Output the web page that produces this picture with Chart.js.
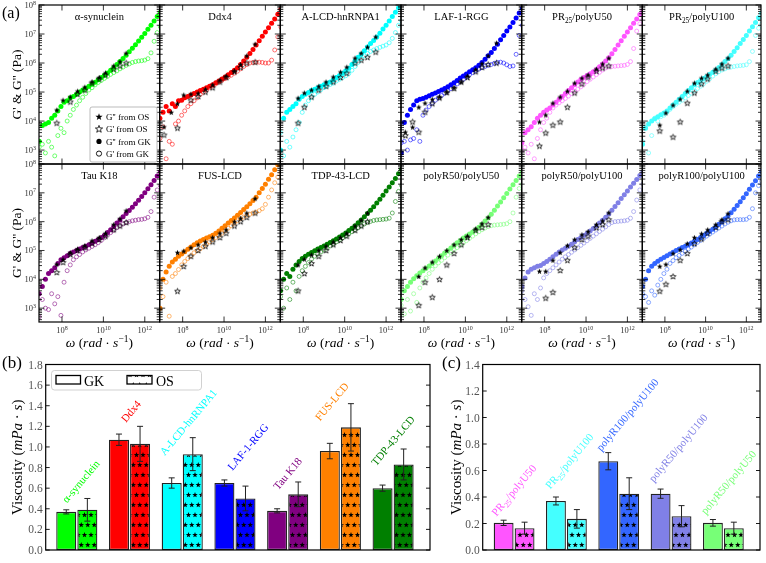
<!DOCTYPE html>
<html>
<head>
<meta charset="utf-8">
<script src="https://cdn.jsdelivr.net/npm/chart.js@4.4.1/dist/chart.umd.min.js"></script>
<style>
  html, body { margin: 0; padding: 0; background: #fff; }
  #wrap { position: relative; width: 766px; height: 563px; overflow: hidden; }
  #wrap canvas { position: absolute; left: 0; top: 0; }
</style>
</head>
<body>
<div id="wrap"></div>
<script>
// ---------- data: panel (a), values are log10 ----------
const omegaGK = [6.9,7.05,7.2,7.35,7.5,7.65,7.8,7.95,8.1,8.25,8.4,8.55,8.7,8.85,9.0,9.15,9.3,9.45,9.6,9.75,
  9.9,10.05,10.2,10.35,10.5,10.65,10.8,10.95,11.1,11.25,11.4,11.55,11.7,11.85,12.0,12.15,12.3,12.45,12.6,12.75];
const omegaOS = [7.1,7.45,7.75,8.05,8.4,8.75,9.1,9.45,9.8,10.1,10.5,10.8,11.1,11.5];

const panelNames = ['α-synuclein','Ddx4','A-LCD-hnRNPA1','LAF-1-RGG','PR_{25}/polyU50','PR_{25}/polyU100',
  'Tau K18','FUS-LCD','TDP-43-LCD','polyR50/polyU50','polyR50/polyU100','polyR100/polyU100'];
const panelColors = ['#00ff00','#ff0000','#00ffff','#0000ff','#ff55ff','#44ffff',
  '#800080','#ff8000','#007f00','#77ff77','#8080e6','#3366ff'];

// G'' from GK (filled circles)
const gppGK = [
  [3.3,3.85,3.9,3.95,4.1,4.2,4.35,4.5,4.65,4.7,4.8,4.85,4.92,5.0,5.07,5.13,5.2,5.27,5.34,5.42,5.5,5.58,5.66,5.75,5.85,5.95,6.05,6.16,6.27,6.39,6.51,6.63,6.76,6.89,7.02,7.16,7.3,7.45,7.6,7.75],
  [4.1,4.3,4.5,4.35,4.6,4.5,4.7,4.72,4.8,4.85,4.9,4.95,5.0,5.05,5.1,5.15,5.2,5.25,5.32,5.38,5.45,5.52,5.6,5.67,5.75,5.84,5.95,6.07,6.2,6.33,6.47,6.62,6.77,6.92,7.07,7.22,7.37,7.52,7.68,7.85],
  [3.0,4.1,4.3,4.4,4.5,4.6,4.75,4.85,4.92,4.98,5.05,5.1,5.15,5.2,5.25,5.3,5.35,5.42,5.5,5.57,5.65,5.73,5.82,5.95,6.08,6.2,6.3,6.42,6.55,6.67,6.78,6.9,7.03,7.17,7.3,7.45,7.6,7.75,7.9,8.05],
  [2.9,3.95,4.2,4.4,4.55,4.7,4.75,4.78,4.82,4.87,4.92,4.97,5.02,5.07,5.12,5.18,5.25,5.32,5.4,5.48,5.55,5.62,5.7,5.77,5.84,5.92,6.02,6.13,6.25,6.36,6.5,6.65,6.8,6.95,7.1,7.24,7.4,7.55,7.72,7.88],
  [3.25,3.6,3.7,3.8,3.95,4.1,4.2,4.3,4.38,4.45,4.55,4.65,4.75,4.85,4.95,5.05,5.15,5.25,5.35,5.43,5.5,5.57,5.63,5.7,5.78,5.87,5.97,6.07,6.18,6.32,6.47,6.62,6.77,6.92,7.07,7.22,7.37,7.52,7.67,7.8],
  [3.2,3.75,3.9,4.0,4.08,4.15,4.22,4.28,4.35,4.45,4.55,4.65,4.75,4.85,4.95,5.05,5.15,5.25,5.33,5.4,5.47,5.54,5.61,5.68,5.76,5.85,5.95,6.05,6.15,6.27,6.4,6.53,6.67,6.81,6.95,7.1,7.25,7.4,7.56,7.72],
  [3.5,3.75,4.0,4.2,4.3,4.4,4.55,4.68,4.75,4.82,4.9,4.95,5.0,5.05,5.1,5.15,5.2,5.26,5.32,5.38,5.45,5.53,5.62,5.72,5.83,5.95,6.06,6.17,6.28,6.39,6.5,6.62,6.74,6.87,7.0,7.14,7.28,7.43,7.58,7.73],
  [3.0,4.0,4.25,4.45,4.6,4.7,4.8,4.88,4.96,5.04,5.12,5.2,5.27,5.33,5.38,5.43,5.48,5.53,5.6,5.68,5.77,5.86,5.95,6.04,6.13,6.22,6.32,6.42,6.52,6.62,6.73,6.85,7.0,7.15,7.3,7.47,7.63,7.8,7.97,8.1],
  [3.6,4.0,4.2,4.1,4.35,4.5,4.62,4.72,4.8,4.87,4.93,4.99,5.05,5.1,5.16,5.22,5.28,5.34,5.4,5.47,5.54,5.61,5.69,5.77,5.86,5.96,6.06,6.17,6.28,6.4,6.52,6.65,6.78,6.92,7.06,7.2,7.35,7.5,7.66,7.82],
  [3.3,3.6,3.75,3.9,4.02,4.12,4.22,4.3,4.38,4.46,4.55,4.64,4.73,4.82,4.91,5.0,5.09,5.18,5.27,5.35,5.43,5.5,5.57,5.64,5.72,5.81,5.91,6.02,6.13,6.26,6.4,6.54,6.68,6.83,6.98,7.13,7.28,7.43,7.58,7.73],
  [3.75,4.05,4.25,4.35,4.4,4.45,4.48,4.55,4.62,4.7,4.78,4.87,4.95,5.02,5.08,5.15,5.22,5.3,5.38,5.45,5.52,5.6,5.68,5.76,5.85,5.95,6.05,6.15,6.27,6.4,6.53,6.66,6.8,6.93,7.06,7.2,7.33,7.46,7.6,7.72],
  [3.75,4.0,4.3,4.45,4.55,4.63,4.7,4.76,4.82,4.88,4.94,5.0,5.05,5.1,5.15,5.2,5.26,5.32,5.38,5.45,5.52,5.6,5.67,5.74,5.82,5.91,6.0,6.1,6.2,6.31,6.43,6.56,6.69,6.83,6.97,7.12,7.27,7.42,7.58,7.74]
];
// G' from GK (open circles)
const gpGK = [
  [3.1,3.2,2.9,3.3,3.1,2.8,3.5,3.75,3.6,4.0,4.2,4.4,4.55,4.7,4.82,4.95,5.07,5.15,5.25,5.33,5.4,5.47,5.54,5.61,5.67,5.73,5.8,5.86,5.92,5.97,6.02,6.05,6.07,6.08,6.1,6.15,6.35,6.75,7.05,7.25],
  [3.4,3.8,2.7,3.3,3.2,3.9,4.0,4.2,4.35,4.5,4.6,4.7,4.8,4.92,5.0,5.07,5.15,5.22,5.28,5.34,5.4,5.46,5.52,5.58,5.65,5.72,5.8,5.88,5.95,6.0,6.02,6.03,6.03,6.02,6.0,6.0,6.1,6.45,6.9,7.24],
  [3.6,2.8,3.3,3.1,3.45,3.7,3.95,4.3,4.55,4.7,4.82,4.92,5.0,5.08,5.15,5.2,5.26,5.31,5.38,5.44,5.5,5.56,5.64,5.75,5.88,6.02,6.15,6.25,6.33,6.4,6.45,6.5,6.54,6.58,6.62,6.7,6.85,7.05,7.3,7.45],
  [3.25,3.3,3.0,3.35,3.4,3.7,3.3,4.2,4.38,4.5,4.62,4.72,4.8,4.88,4.96,5.04,5.12,5.2,5.28,5.36,5.44,5.52,5.6,5.67,5.73,5.79,5.84,5.88,5.92,5.95,5.99,6.02,6.03,6.0,5.94,5.88,5.9,6.3,6.95,7.3],
  [3.0,3.1,2.9,3.2,2.7,3.4,3.7,3.95,4.1,4.3,4.45,4.55,4.63,4.7,4.78,4.86,4.95,5.03,5.1,5.18,5.27,5.36,5.44,5.52,5.6,5.68,5.76,5.83,5.87,5.88,5.89,5.9,5.91,5.92,5.95,6.05,6.5,7.1,7.35,7.5],
  [3.3,3.8,2.9,3.5,4.1,4.0,4.15,4.2,4.3,4.4,4.5,4.58,4.65,4.72,4.8,4.88,4.96,5.04,5.12,5.2,5.28,5.37,5.46,5.55,5.63,5.7,5.76,5.8,5.84,5.86,5.88,5.9,5.91,5.92,5.94,6.05,6.4,6.95,7.2,7.35],
  [2.7,3.3,3.0,2.95,3.5,3.15,3.4,2.75,3.9,4.3,4.5,4.68,4.78,4.86,4.95,5.02,5.08,5.14,5.2,5.27,5.35,5.44,5.53,5.62,5.7,5.79,5.86,5.92,5.97,6.0,6.03,6.05,6.07,6.08,6.1,6.15,6.35,6.85,7.1,7.25],
  [3.7,3.4,3.9,2.72,4.1,4.2,4.34,4.5,4.62,4.72,4.82,4.92,5.0,5.06,5.14,5.22,5.3,5.38,5.45,5.52,5.6,5.68,5.77,5.86,5.95,6.03,6.1,6.16,6.22,6.26,6.3,6.33,6.38,6.45,6.6,6.85,7.1,7.35,7.55,7.7],
  [3.4,3.0,3.7,3.3,3.9,3.6,4.1,4.3,4.45,4.58,4.7,4.8,4.88,4.95,5.02,5.09,5.16,5.23,5.3,5.37,5.44,5.51,5.58,5.65,5.72,5.79,5.86,5.92,5.97,6.01,6.04,6.06,6.07,6.08,6.09,6.12,6.3,6.7,7.05,7.25],
  [3.1,2.8,3.3,2.9,3.5,3.2,3.7,3.9,4.05,4.2,4.35,4.47,4.57,4.66,4.75,4.84,4.93,5.02,5.1,5.18,5.26,5.34,5.42,5.5,5.58,5.65,5.72,5.78,5.83,5.86,5.88,5.89,5.9,5.91,5.93,6.0,6.3,6.85,7.15,7.3],
  [3.6,3.3,3.05,2.75,3.5,3.3,3.7,4.05,4.2,4.3,4.4,4.5,4.6,4.7,4.78,4.86,4.94,5.02,5.1,5.18,5.26,5.34,5.42,5.5,5.58,5.66,5.74,5.82,5.9,5.97,6.0,6.01,6.02,6.03,6.05,6.12,6.35,6.75,7.1,7.3],
  [3.5,3.4,3.2,3.6,3.45,3.8,4.0,4.2,4.35,4.55,4.65,4.75,4.83,4.9,4.97,5.05,5.12,5.2,5.28,5.35,5.42,5.5,5.57,5.64,5.71,5.78,5.85,5.92,5.98,6.03,6.06,6.07,6.07,6.07,6.08,6.15,6.45,7.0,7.25,7.4]
];
// G'' from OS (filled stars)
const gppOS = [
  [null,null,4.38,4.72,4.83,5.03,5.17,5.35,5.5,5.66,5.9,6.05,6.34,null],
  [3.8,4.3,4.6,4.9,4.93,4.96,5.1,5.25,5.41,5.55,5.72,5.95,6.25,6.65],
  [null,null,4.79,4.97,5.07,5.2,5.35,5.52,5.69,5.86,6.17,6.34,6.55,6.9],
  [3.62,3.79,4.48,4.62,4.75,4.83,5.0,5.15,5.35,5.55,5.78,5.98,6.25,6.69],
  [null,null,3.97,4.21,4.62,4.83,5.03,5.31,5.48,5.59,5.79,5.97,6.17,null],
  [null,null,3.86,4.28,4.55,4.76,5.03,5.31,5.48,5.59,5.79,5.97,6.17,null],
  [null,null,4.52,4.69,4.93,5.05,5.17,5.34,5.45,5.6,5.9,6.1,6.38,null],
  [null,null,4.93,4.98,5.1,5.2,5.3,5.45,5.6,5.72,6.0,6.12,6.3,6.8],
  [null,null,4.5,4.7,4.85,5.0,5.15,5.3,5.45,5.6,5.85,6.05,6.3,null],
  [null,null,4.1,4.4,4.6,4.8,5.0,5.2,5.38,5.5,5.75,5.93,6.15,null],
  [null,null,4.28,4.28,4.66,4.93,5.17,5.38,5.55,5.66,5.9,6.03,6.31,null],
  [null,null,4.45,4.52,4.9,5.03,5.24,5.45,5.58,5.72,5.9,6.07,6.28,null]
];
// G' from OS (open stars)
const gpOS = [
  [null,null,3.93,null,4.66,4.93,5.07,5.31,5.45,5.59,5.79,5.9,6.0,null],
  [3.52,null,3.76,null,4.72,4.85,5.0,5.15,5.35,5.5,5.7,5.85,6.0,6.03],
  [null,null,3.93,4.48,4.83,5.07,5.2,5.35,5.5,5.65,6.0,6.1,6.2,6.38],
  [3.5,3.97,3.62,4.31,4.6,4.8,4.98,5.12,5.35,5.5,5.7,5.85,5.95,6.0],
  [null,null,3.14,3.59,3.86,3.97,4.48,4.97,5.28,5.52,5.72,5.83,5.9,null],
  [null,null,3.66,null,3.45,3.97,4.62,4.97,5.28,5.45,5.72,5.83,5.9,null],
  [null,null,4.24,4.59,4.86,5.0,5.1,5.25,5.38,5.5,5.72,5.85,5.97,null],
  [null,null,3.59,4.45,4.8,5.0,5.15,5.3,5.45,5.6,5.85,6.0,6.15,6.3],
  [null,null,3.6,4.2,4.55,4.8,5.0,5.2,5.35,5.5,5.7,5.85,6.0,null],
  [null,null,3.1,3.9,3.38,4.0,4.5,4.9,5.2,5.45,5.7,5.8,5.9,null],
  [null,null,null,3.35,3.55,4.31,4.66,5.1,5.38,5.5,5.79,5.9,6.07,null],
  [null,null,3.59,3.83,4.1,4.66,4.9,5.24,5.4,5.6,5.8,6.0,6.07,null]
];
const yTickExp = [3,4,5,6,7,8];
const xTickExp = [8,10,12];

// ---------- data: panel (b) ----------
const namesB = ['α-synuclein','Ddx4','A-LCD-hnRNPA1','LAF-1-RGG','Tau K18','FUS-LCD','TDP-43-LCD'];
const colorsB = ['#00ff00','#ff0000','#00ffff','#0000ff','#800080','#ff8000','#007f00'];
const gkB = [0.37,1.07,0.65,0.65,0.38,0.96,0.60];
const gkErrB = [0.02,0.055,0.05,0.03,0.02,0.075,0.03];
const osB = [0.39,1.03,0.93,0.50,0.54,1.19,0.83];
const osErrB = [0.11,0.17,0.16,0.12,0.12,0.23,0.15];
const labelXB = [0.08,1.03,2.12,3.25,4.0,4.84,6.0];
const labelYB = [0.665,1.345,1.24,1.0,0.74,1.44,1.06];
const yTicksB = [0,0.2,0.4,0.6,0.8,1.0,1.2,1.4,1.6,1.8];

// ---------- data: panel (c) ----------
const namesC = ['PR_{25}/polyU50','PR_{25}/polyU100','polyR100/polyU100','polyR50/polyU100','polyR50/polyU50'];
const colorsC = ['#ff55ff','#44ffff','#3366ff','#8080e6','#77ff77'];
const gkC = [0.205,0.37,0.67,0.425,0.205];
const gkErrC = [0.02,0.03,0.065,0.035,0.025];
const osC = [0.165,0.235,0.425,0.255,0.165];
const osErrC = [0.045,0.07,0.12,0.08,0.045];
const labelXC = [0.0,1.06,2.17,3.14,4.1];
const labelYC = [0.45,0.67,1.02,0.77,0.51];
const yTicksC = [0,0.2,0.4,0.6,0.8,1.0,1.2,1.4];

// ---------- helpers ----------
const SERIF = '"Liberation Serif", "DejaVu Serif", serif';
const W = 766, H = 563;
const wrap = document.getElementById('wrap');
Chart.defaults.font.family = SERIF;

function newCanvas() {
  const c = document.createElement('canvas');
  c.width = W; c.height = H;
  wrap.appendChild(c);
  return c;
}

function withAlpha(hex, a) {
  const n = parseInt(hex.slice(1), 16);
  return `rgba(${n >> 16},${(n >> 8) & 255},${n & 255},${a})`;
}

function pts(xs, ys) {
  const out = [];
  xs.forEach((lx, i) => { if (ys[i] != null) out.push({x: Math.pow(10, lx), y: Math.pow(10, ys[i])}); });
  return out;
}

function font(size, italic) { return (italic ? 'italic ' : '') + size + 'px ' + SERIF; }

// name with _{sub} parts -> text segments
function nameSegs(name, size) {
  return name.split(/_\{([^}]*)\}/).map((t, i) =>
    i % 2 ? {t, f: font(size * 0.7), dy: size * 0.25} : {t, f: font(size), dy: 0}).filter(s => s.t);
}

function drawSegs(ctx, segs, x, y, align) {
  let w = 0;
  segs.forEach(s => { ctx.font = s.f; w += ctx.measureText(s.t).width; });
  let cx = align === 'center' ? x - w / 2 : align === 'right' ? x - w : x;
  ctx.textAlign = 'left';
  segs.forEach(s => { ctx.font = s.f; ctx.fillText(s.t, cx, y + (s.dy || 0)); cx += ctx.measureText(s.t).width; });
}

function starPath(ctx, cx, cy, R, r) {
  ctx.beginPath();
  for (let i = 0; i < 10; i++) {
    const ang = -Math.PI / 2 + i * Math.PI / 5, rad = i % 2 ? r : R;
    ctx.lineTo(cx + rad * Math.cos(ang), cy + rad * Math.sin(ang));
  }
  ctx.closePath();
}

function starImage(filled) {
  const c = document.createElement('canvas');
  c.width = 9; c.height = 9;
  const g = c.getContext('2d');
  starPath(g, 4.5, 4.7, 3.0, 1.25);
  if (filled) { g.fillStyle = '#000'; g.fill(); }
  else { g.strokeStyle = '#000'; g.lineWidth = 0.8; g.stroke(); }
  return c;
}
const starFilled = starImage(true), starOpen = starImage(false);

const scratch = document.createElement('canvas').getContext('2d');
function starPattern(color) {
  const c = document.createElement('canvas');
  c.width = 13; c.height = 20;
  const g = c.getContext('2d');
  g.fillStyle = color; g.fillRect(0, 0, 13, 20);
  g.fillStyle = '#000';
  [[3.25, 5], [9.75, 5], [0, 15], [6.5, 15], [13, 15]].forEach(([sx, sy]) => { starPath(g, sx, sy, 2.9, 1.2); g.fill(); });
  return scratch.createPattern(c, 'repeat');
}

const omegaLabel = [
  {t: 'ω', f: font(13.5, true)}, {t: ' (', f: font(13.5)}, {t: 'rad', f: font(13.5, true)},
  {t: ' · ', f: font(13.5)}, {t: 's', f: font(13.5, true)}, {t: '−1', f: font(9.5), dy: -5.5}, {t: ')', f: font(13.5)}
];
const viscLabel = [
  {t: 'Viscosity (', f: font(15)}, {t: 'mPa', f: font(15, true)}, {t: ' · ', f: font(15)},
  {t: 's', f: font(15, true)}, {t: ')', f: font(15)}
];

// ---------- panel (a) decoration ----------
const panelDecor = {
  id: 'panelDecor',
  afterDraw(chart, args, o) {
    const {ctx, chartArea: a} = chart;
    const sx = chart.scales.x, sy = chart.scales.y;
    const p = o.index, row = Math.floor(p / 6), col = p % 6;
    ctx.save();
    ctx.strokeStyle = '#000';
    ctx.lineWidth = 0.8;
    ctx.beginPath();
    for (let e = 2; e <= 8; e++) {
      for (let k = 1; k <= 9; k++) {
        const v = k * Math.pow(10, e);
        if (v < sy.min * 0.999 || v > sy.max * 1.001) continue;
        const py = sy.getPixelForValue(v), len = k === 1 ? 5.5 : 3;
        ctx.moveTo(a.left, py); ctx.lineTo(a.left + len, py);
        ctx.moveTo(a.right, py); ctx.lineTo(a.right - len, py);
      }
    }
    xTickExp.forEach(e => {
      const px = sx.getPixelForValue(Math.pow(10, e));
      ctx.moveTo(px, a.bottom); ctx.lineTo(px, a.bottom - 5.5);
      ctx.moveTo(px, a.top); ctx.lineTo(px, a.top + 5.5);
    });
    ctx.stroke();
    ctx.lineWidth = 1.2;
    ctx.strokeRect(a.left, a.top, a.right - a.left, a.bottom - a.top);

    ctx.fillStyle = '#000';
    ctx.textBaseline = 'alphabetic';
    drawSegs(ctx, nameSegs(panelNames[p], 10.5), (a.left + a.right) / 2, a.top + 15, 'center');

    ctx.fillStyle = '#333';
    if (col === 0) {
      yTickExp.forEach(e => {
        const py = sy.getPixelForValue(Math.pow(10, e));
        drawSegs(ctx, [{t: '10', f: font(8.5)}, {t: String(e), f: font(6), dy: -3.5}], a.left - 3, py + 3, 'right');
      });
      ctx.fillStyle = '#000';
      ctx.save();
      ctx.translate(17, (a.top + a.bottom) / 2);
      ctx.rotate(-Math.PI / 2);
      drawSegs(ctx, [{t: "G' & G'' (Pa)", f: font(13.5)}], 0, 4, 'center');
      ctx.restore();
    }
    if (row === 1) {
      ctx.fillStyle = '#333';
      xTickExp.forEach(e => {
        const px = sx.getPixelForValue(Math.pow(10, e));
        drawSegs(ctx, [{t: '10', f: font(8.5)}, {t: String(e), f: font(6), dy: -3.5}], px, a.bottom + 11, 'center');
      });
      ctx.fillStyle = '#000';
      drawSegs(ctx, omegaLabel, (a.left + a.right) / 2, a.bottom + 25, 'center');
    }
    if (p === 0) {
      ctx.fillStyle = '#000';
      drawSegs(ctx, [{t: '(a)', f: font(16)}], 2, 18, 'left');
      // legend
      const lx = 90, ly = 107, lw = 67, lh = 55;
      ctx.fillStyle = '#fff';
      ctx.strokeStyle = '#aaa';
      ctx.lineWidth = 0.8;
      ctx.beginPath();
      ctx.roundRect(lx, ly, lw, lh, 2);
      ctx.fill(); ctx.stroke();
      const items = [["G'' from OS", 'sf'], ["G' from OS", 'so'], ["G'' from GK", 'cf'], ["G' from GK", 'co']];
      items.forEach(([txt, m], i) => {
        const yy = ly + 10 + i * 12.2, mx = lx + 9;
        if (m === 'sf' || m === 'so') {
          starPath(ctx, mx, yy, 3.8, 1.55);
          if (m === 'sf') { ctx.fillStyle = '#000'; ctx.fill(); }
          else { ctx.strokeStyle = '#000'; ctx.lineWidth = 0.8; ctx.stroke(); }
        } else {
          ctx.beginPath(); ctx.arc(mx, yy, 2.6, 0, Math.PI * 2);
          if (m === 'cf') { ctx.fillStyle = '#000'; ctx.fill(); }
          else { ctx.strokeStyle = '#000'; ctx.lineWidth = 0.9; ctx.stroke(); }
        }
        ctx.fillStyle = '#000';
        drawSegs(ctx, [{t: txt, f: font(9)}], lx + 16, yy + 3.2, 'left');
      });
    }
    ctx.restore();
  }
};

const colEdges = [39, 159.7, 280.3, 401, 521.7, 642.3, 763];
const rowEdges = [5, 164, 322];

panelNames.forEach((name, p) => {
  const row = Math.floor(p / 6), col = p % 6;
  const color = panelColors[p];
  new Chart(newCanvas(), {
    type: 'scatter',
    data: {
      datasets: [
        {data: pts(omegaOS, gpOS[p]), pointStyle: starOpen, order: 0},
        {data: pts(omegaOS, gppOS[p]), pointStyle: starFilled, order: 1},
        {data: pts(omegaGK, gppGK[p]), pointStyle: 'circle', pointRadius: 2.5, backgroundColor: color, borderWidth: 0, order: 2},
        {data: pts(omegaGK, gpGK[p]), pointStyle: 'circle', pointRadius: 2.0, backgroundColor: 'rgba(0,0,0,0)',
          borderColor: withAlpha(color, 0.7), borderWidth: 0.8, order: 3}
      ]
    },
    options: {
      responsive: false, animation: false, events: [],
      layout: {padding: {left: colEdges[col], right: W - colEdges[col + 1], top: rowEdges[row], bottom: H - rowEdges[row + 1]}},
      plugins: {legend: {display: false}, tooltip: {enabled: false}, panelDecor: {index: p}},
      scales: {
        x: {type: 'logarithmic', display: false, min: Math.pow(10, 6.89), max: Math.pow(10, 12.72)},
        y: {type: 'logarithmic', display: false, min: Math.pow(10, 2.52), max: 1e8}
      }
    },
    plugins: [panelDecor]
  });
});

// ---------- panels (b) and (c) ----------
const barSets = {
  b: {names: namesB, colors: colorsB, gk: gkB, gkErr: gkErrB, os: osB, osErr: osErrB,
      labelX: labelXB, labelY: labelYB, ticks: yTicksB, letter: '(b)', letterX: 2, ylabX: 17},
  c: {names: namesC, colors: colorsC, gk: gkC, gkErr: gkErrC, os: osC, osErr: osErrC,
      labelX: labelXC, labelY: labelYC, ticks: yTicksC, letter: '(c)', letterX: 442, ylabX: 456}
};

const barDecor = {
  id: 'barDecor',
  afterDraw(chart, args, o) {
    const S = barSets[o.set];
    const {ctx, chartArea: a} = chart;
    const sx = chart.scales.x, sy = chart.scales.y;
    ctx.save();
    // error bars
    ctx.strokeStyle = '#222';
    ctx.lineWidth = 1;
    [[S.gk, S.gkErr], [S.os, S.osErr]].forEach(([vals, errs], d) => {
      chart.getDatasetMeta(d).data.forEach((bar, i) => {
        const x = bar.x;
        const t = sy.getPixelForValue(vals[i] + errs[i]), b = sy.getPixelForValue(vals[i] - errs[i]);
        ctx.beginPath();
        ctx.moveTo(x, t); ctx.lineTo(x, b);
        ctx.moveTo(x - 3, t); ctx.lineTo(x + 3, t);
        ctx.moveTo(x - 3, b); ctx.lineTo(x + 3, b);
        ctx.stroke();
      });
    });
    // frame and ticks
    ctx.strokeStyle = '#000';
    ctx.lineWidth = 1.2;
    ctx.strokeRect(a.left, a.top, a.right - a.left, a.bottom - a.top);
    ctx.lineWidth = 0.9;
    ctx.beginPath();
    S.ticks.forEach(v => {
      const py = sy.getPixelForValue(v);
      ctx.moveTo(a.left, py); ctx.lineTo(a.left + 4, py);
      ctx.moveTo(a.right, py); ctx.lineTo(a.right - 4, py);
    });
    ctx.stroke();
    ctx.fillStyle = '#555';
    S.ticks.forEach(v => {
      drawSegs(ctx, [{t: v.toFixed(1), f: font(11.5)}], a.left - 3, sy.getPixelForValue(v) + 4, 'right');
    });
    // rotated category labels
    S.names.forEach((n, i) => {
      ctx.save();
      ctx.translate(sx.getPixelForValue(S.labelX[i]), sy.getPixelForValue(S.labelY[i]));
      ctx.rotate(-50 * Math.PI / 180);
      ctx.fillStyle = S.colors[i];
      drawSegs(ctx, nameSegs(n, 11), 0, 3.5, 'center');
      ctx.restore();
    });
    // axis label
    ctx.fillStyle = '#000';
    ctx.save();
    ctx.translate(S.ylabX, (a.top + a.bottom) / 2);
    ctx.rotate(-Math.PI / 2);
    drawSegs(ctx, viscLabel, 0, 5, 'center');
    ctx.restore();
    drawSegs(ctx, [{t: S.letter, f: font(17)}], S.letterX, 368, 'left');
    // legend
    if (o.set === 'b') {
      const lx = 51.5, ly = 370.5;
      ctx.fillStyle = 'rgba(255,255,255,0.85)';
      ctx.strokeStyle = '#ccc';
      ctx.lineWidth = 0.9;
      ctx.beginPath(); ctx.roundRect(lx, ly, 150, 19.5, 3); ctx.fill(); ctx.stroke();
      ctx.strokeStyle = '#000';
      ctx.lineWidth = 1.3;
      ctx.fillStyle = '#fff';
      ctx.fillRect(56, 375.5, 24.5, 8.5); ctx.strokeRect(56, 375.5, 24.5, 8.5);
      ctx.fillStyle = legendPattern;
      ctx.fillRect(127, 375.5, 25, 8.5); ctx.strokeRect(127, 375.5, 25, 8.5);
      ctx.fillStyle = '#000';
      drawSegs(ctx, [{t: 'GK', f: font(14)}], 84, 385.5, 'left');
      drawSegs(ctx, [{t: 'OS', f: font(14)}], 156, 385.5, 'left');
    }
    ctx.restore();
  }
};
const legendPattern = starPattern('#ffffff');

function barChart(key, pad, xmin, xmax, ymax) {
  const S = barSets[key];
  new Chart(newCanvas(), {
    type: 'bar',
    data: {
      datasets: [
        {data: S.gk.map((v, i) => ({x: i, y: v})), backgroundColor: S.colors,
          borderColor: '#222', borderWidth: 1.3, borderSkipped: false},
        {data: S.os.map((v, i) => ({x: i, y: v})), backgroundColor: S.colors.map(starPattern),
          borderColor: '#222', borderWidth: 1.3, borderSkipped: false}
      ]
    },
    options: {
      responsive: false, animation: false, events: [],
      layout: {padding: pad},
      datasets: {bar: {categoryPercentage: 0.8, barPercentage: 0.95}},
      plugins: {legend: {display: false}, tooltip: {enabled: false}, barDecor: {set: key}},
      scales: {
        x: {type: 'linear', display: false, min: xmin, max: xmax, offset: false, ticks: {stepSize: 1, includeBounds: false}},
        y: {display: false, min: 0, max: ymax}
      }
    },
    plugins: [barDecor]
  });
}

barChart('b', {left: 45.7, right: W - 430, top: 364.5, bottom: H - 550}, -0.59, 6.7, 1.8);
barChart('c', {left: 482.7, right: W - 760, top: 364.5, bottom: H - 550}, -0.6, 4.7, 1.4);
</script>
</body>
</html>
